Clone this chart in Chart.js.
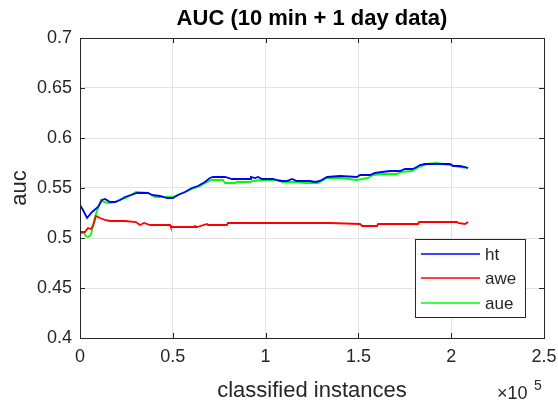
<!DOCTYPE html>
<html>
<head>
<meta charset="utf-8">
<script src="https://cdn.jsdelivr.net/npm/chart.js@4/dist/chart.umd.min.js"></script>
<style>
html,body{margin:0;padding:0;background:#fff;}
#wrap{width:558px;height:405px;position:relative;}
</style>
</head>
<body>
<div id="wrap"><canvas id="c" width="558" height="405"></canvas></div>
<script>
const titleText = 'AUC (10 min + 1 day data)';
const xLabel = 'classified instances';
const yLabel = 'auc';
const seriesNames = ['ht', 'awe', 'aue'];
const seriesColors = ['#0000ff', '#ff0000', '#00ff00'];
const xTickValues = [0, 50000, 100000, 150000, 200000, 250000];
const yTickValues = [0.4, 0.45, 0.5, 0.55, 0.6, 0.65, 0.7];

const htX = [0,1600,3800,6500,9700,11900,13500,16200,18900,21600,24200,27500,30700,36600,38800,43100,46900,50100,52800,56600,60300,63600,67300,70000,71700,78100,81900,91600,92100,94300,95900,98100,104000,107800,111500,114200,116900,123900,126600,129300,133100,140100,149200,150900,156300,158900,162700,167000,172400,175100,178900,180500,183200,185900,192300,195600,199400,201000,204700,207400,209100];
const htY = [0.533,0.528,0.520,0.526,0.531,0.538,0.539,0.536,0.536,0.538,0.541,0.543,0.545,0.545,0.543,0.542,0.540,0.540,0.543,0.546,0.550,0.552,0.556,0.560,0.561,0.561,0.559,0.559,0.561,0.560,0.561,0.559,0.559,0.557,0.557,0.559,0.557,0.557,0.556,0.557,0.561,0.562,0.561,0.563,0.563,0.565,0.566,0.567,0.567,0.569,0.569,0.570,0.573,0.574,0.574,0.574,0.574,0.572,0.572,0.571,0.570];

const aweX = [0,2700,4300,5900,7000,8600,10800,13500,16200,24200,30200,32300,34500,37700,48500,48900,61400,62000,63100,68400,69000,79100,79700,134700,150900,152000,160000,160600,182100,182700,203200,203700,207400,209100];
const aweY = [0.506,0.506,0.510,0.509,0.512,0.522,0.520,0.518,0.517,0.517,0.516,0.513,0.515,0.513,0.513,0.511,0.511,0.512,0.511,0.514,0.513,0.513,0.515,0.515,0.514,0.512,0.512,0.514,0.514,0.516,0.516,0.515,0.514,0.516];

const aueX = [0,2200,3200,4300,5900,7000,8100,9700,11300,12900,15600,18900,21000,24800,27500,30200,36600,40400,49600,51200,56600,60300,64700,68400,71100,77000,78100,83500,84600,91600,93200,98100,107800,108800,116900,121200,128200,129300,133100,140100,149200,155200,157900,163300,170800,172400,178900,181600,184300,187000,192300,195600,199400,204700,209100];
const aueY = [0.505,0.505,0.502,0.501,0.503,0.513,0.521,0.530,0.538,0.536,0.535,0.536,0.538,0.540,0.543,0.546,0.545,0.541,0.541,0.542,0.546,0.549,0.552,0.556,0.558,0.558,0.555,0.555,0.556,0.556,0.557,0.558,0.558,0.556,0.556,0.555,0.555,0.556,0.560,0.560,0.558,0.560,0.563,0.564,0.564,0.566,0.567,0.570,0.572,0.574,0.575,0.574,0.573,0.571,0.570];

const FONT = '"Liberation Sans", Arial, Helvetica, sans-serif';
const AX = '#262626';

function pts(xs, ys){ return xs.map((x,i)=>({x:x, y:ys[i]})); }

const seriesData = [pts(htX, htY), pts(aweX, aweY), pts(aueX, aueY)];

const decor = {
  id: 'decor',
  afterDatasetsDraw(chart){
    const ctx = chart.ctx;
    const a = chart.chartArea;
    const xs = chart.scales.x, ys = chart.scales.y;
    ctx.save();
    // box
    ctx.strokeStyle = AX; ctx.lineWidth = 1;
    ctx.strokeRect(Math.round(a.left)+0.5, Math.round(a.top)+0.5, Math.round(a.right-a.left), Math.round(a.bottom-a.top));
    // inward ticks
    ctx.beginPath();
    xTickValues.forEach(v=>{
      const px = Math.round(xs.getPixelForValue(v))+0.5;
      ctx.moveTo(px, a.bottom); ctx.lineTo(px, a.bottom-5);
      ctx.moveTo(px, a.top); ctx.lineTo(px, a.top+5);
    });
    yTickValues.forEach(v=>{
      const py = Math.round(ys.getPixelForValue(v))+0.5;
      ctx.moveTo(a.left, py); ctx.lineTo(a.left+5, py);
      ctx.moveTo(a.right, py); ctx.lineTo(a.right-5, py);
    });
    ctx.stroke();
    // title
    ctx.fillStyle = '#000';
    ctx.font = 'bold 22px ' + FONT;
    ctx.textAlign = 'center'; ctx.textBaseline = 'middle';
    ctx.fillText(titleText, (a.left+a.right)/2, 19);
    // axis labels
    ctx.fillStyle = AX;
    ctx.font = '22px ' + FONT;
    ctx.textBaseline = 'alphabetic';
    ctx.fillText(xLabel, (a.left+a.right)/2, 397);
    ctx.save();
    ctx.translate(26, (a.top+a.bottom)/2);
    ctx.rotate(-Math.PI/2);
    ctx.fillText(yLabel, 0, 0);
    ctx.restore();
    // exponent
    ctx.textAlign = 'left';
    ctx.font = '18px ' + FONT;
    ctx.fillText('\u00d710', 497, 399);
    ctx.font = '14px ' + FONT;
    ctx.fillText('5', 534, 390);
    // legend
    const lx = 415.5, ly = 239.5, lw = 110, lh = 78;
    ctx.fillStyle = '#fff';
    ctx.fillRect(lx, ly, lw, lh);
    ctx.strokeStyle = AX; ctx.lineWidth = 1;
    ctx.strokeRect(lx, ly, lw, lh);
    const rows = [254, 278, 303];
    ctx.font = '17px ' + FONT;
    ctx.textBaseline = 'middle';
    chart.data.datasets.forEach((ds, i)=>{
      ctx.strokeStyle = ds.borderColor; ctx.lineWidth = 1.5;
      ctx.beginPath(); ctx.moveTo(421, rows[i]); ctx.lineTo(480, rows[i]); ctx.stroke();
      ctx.fillStyle = AX;
      ctx.fillText(ds.label, 485, rows[i]+1);
    });
    ctx.restore();
  }
};

new Chart(document.getElementById('c'), {
  type: 'scatter',
  data: {
    datasets: seriesNames.map((n,i)=>({
      label: n,
      data: seriesData[i],
      showLine: true,
      borderColor: seriesColors[i],
      backgroundColor: seriesColors[i],
      borderWidth: 1.8,
      pointRadius: 0,
      tension: 0
    }))
  },
  options: {
    responsive: false,
    animation: false,
    devicePixelRatio: 1,
    layout: { padding: { left: 0, top: 38, right: 14, bottom: 0 } },
    plugins: { legend: { display: false }, title: { display: false }, tooltip: { enabled: false } },
    scales: {
      x: {
        type: 'linear', min: 0, max: 250000,
        afterBuildTicks(s){ s.ticks = xTickValues.map(v=>({value:v})); },
        afterFit(s){ s.height = 67; s.paddingLeft = 0; s.paddingRight = 0; },
        ticks: {
          color: AX, font: { family: FONT, size: 18 }, padding: 8, maxRotation: 0,
          callback: v => String(v/100000)
        },
        grid: { color: '#e3e3e3', drawTicks: false, lineWidth: 1 },
        border: { display: true, color: AX }
      },
      y: {
        type: 'linear', min: 0.4, max: 0.7,
        afterBuildTicks(s){ s.ticks = yTickValues.map(v=>({value:v})); },
        afterFit(s){ s.width = 80; s.paddingTop = 0; s.paddingBottom = 0; },
        ticks: {
          color: AX, font: { family: FONT, size: 18 }, padding: 8,
          callback: v => String(Math.round(v*100)/100)
        },
        grid: { color: '#e3e3e3', drawTicks: false, lineWidth: 1 },
        border: { display: true, color: AX }
      }
    }
  },
  plugins: [decor]
});
</script>
</body>
</html>
